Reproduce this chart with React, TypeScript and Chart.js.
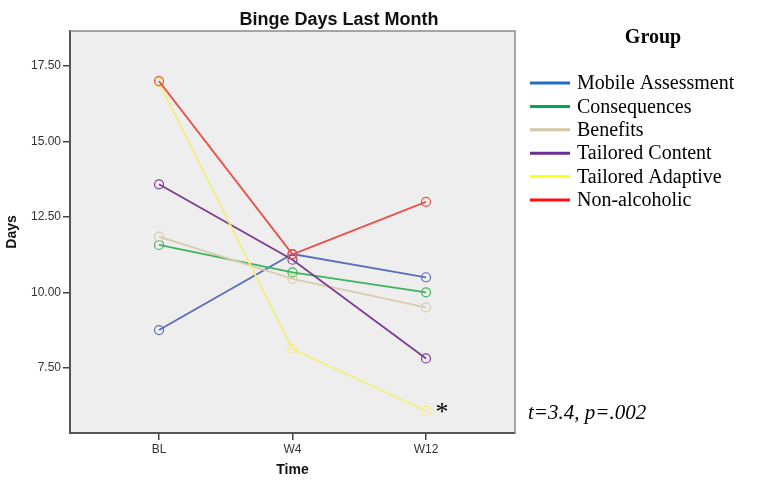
import React, { useEffect, useRef } from "react";
import { Chart, registerables } from "chart.js";

Chart.register(...registerables);

const chartTitle = "Binge Days Last Month";
const xTitle = "Time";
const yTitle = "Days";
const legendTitle = "Group";
const statText = "t=3.4, p=.002";
const starMark = "*";

const timeLabels = ["BL", "W4", "W12"];
const groups = [
  "Mobile Assessment",
  "Consequences",
  "Benefits",
  "Tailored Content",
  "Tailored Adaptive",
  "Non-alcoholic",
];
const mobileAssessment = [8.75, 11.27, 10.5];
const consequences = [11.57, 10.66, 10.0];
const benefits = [11.85, 10.45, 9.5];
const tailoredContent = [13.58, 11.08, 7.81];
const tailoredAdaptive = [16.95, 8.12, 6.07];
const nonAlcoholic = [17.0, 11.26, 13.0];
const seriesValues = [
  mobileAssessment,
  consequences,
  benefits,
  tailoredContent,
  tailoredAdaptive,
  nonAlcoholic,
];
const yTicks = [7.5, 10, 12.5, 15, 17.5];
const yMin = 5.34;
const yMax = 18.66;

const lineColors = ["#5a6fb8", "#3fb45c", "#d8ccae", "#7d3d8e", "#f4ef7c", "#e8524b"];
const legendColors = ["#1f6fc0", "#00a651", "#d3c6a7", "#6a2e99", "#ffff1a", "#ff1010"];

const decorPlugin = {
  id: "decor",
  beforeDraw(chart: any) {
    const { ctx, chartArea } = chart;
    ctx.save();
    ctx.fillStyle = "#eeeeee";
    ctx.fillRect(chartArea.left, chartArea.top, chartArea.right - chartArea.left, chartArea.bottom - chartArea.top);
    ctx.restore();
  },
  afterDraw(chart: any) {
    const { ctx, chartArea, scales } = chart;
    const { left, right, top, bottom } = chartArea;
    ctx.save();
    // top & right frame
    ctx.strokeStyle = "#8a8a8a";
    ctx.lineWidth = 1.5;
    ctx.beginPath();
    ctx.moveTo(left, top);
    ctx.lineTo(right, top);
    ctx.lineTo(right, bottom);
    ctx.stroke();

    // title
    ctx.fillStyle = "#111";
    ctx.font = "bold 18px 'Liberation Sans', Arial, sans-serif";
    ctx.textAlign = "center";
    ctx.textBaseline = "middle";
    ctx.fillText(chartTitle, 339, 20);

    // legend
    const lx = right + 15;
    ctx.font = "bold 20px 'Liberation Serif', 'Times New Roman', serif";
    ctx.fillStyle = "#000";
    ctx.textAlign = "center";
    ctx.fillText(legendTitle, 653, 38);
    ctx.font = "20px 'Liberation Serif', 'Times New Roman', serif";
    ctx.textAlign = "left";
    groups.forEach((g, i) => {
      const y = 83 + i * 23.4;
      ctx.strokeStyle = legendColors[i];
      ctx.lineWidth = 3;
      ctx.beginPath();
      ctx.moveTo(lx, y);
      ctx.lineTo(lx + 40, y);
      ctx.stroke();
      ctx.fillStyle = "#000";
      ctx.fillText(g, lx + 47, y + 1);
    });

    // asterisk next to last point of Tailored Adaptive
    const px = scales.x.getPixelForValue(2);
    const py = scales.y.getPixelForValue(tailoredAdaptive[2]);
    ctx.font = "26px 'Liberation Serif', 'Times New Roman', serif";
    ctx.fillStyle = "#000";
    ctx.textAlign = "center";
    ctx.textBaseline = "middle";
    ctx.fillText(starMark, px + 16, py + 2);

    // stat text
    ctx.font = "italic 21px 'Liberation Serif', 'Times New Roman', serif";
    ctx.textAlign = "left";
    ctx.fillText(statText, right + 13, py + 3);
    ctx.restore();
  },
};

export default function App() {
  const ref = useRef<HTMLCanvasElement | null>(null);
  useEffect(() => {
    if (!ref.current) return;
    const chart = new Chart(ref.current, {
      type: "line",
      data: {
        datasets: groups.map((g, i) => ({
          label: g,
          data: seriesValues[i].map((v, j) => ({ x: j, y: v })),
          order: groups.length - i,
          borderColor: lineColors[i],
          borderWidth: 1.8,
          pointRadius: 4.5,
          pointBorderWidth: 1.2,
          pointBorderColor: lineColors[i],
          pointBackgroundColor: "rgba(0,0,0,0)",
          fill: false,
          tension: 0,
        })),
      },
      options: {
        responsive: false,
        animation: false,
        layout: { padding: { top: 31, right: 244, left: 0, bottom: 0 } },
        plugins: { legend: { display: false }, tooltip: { enabled: false }, title: { display: false } },
        scales: {
          x: {
            type: "linear",
            min: -2 / 3,
            max: 8 / 3,
            afterBuildTicks: (s: any) => {
              s.ticks = timeLabels.map((_, i) => ({ value: i }));
            },
            afterFit: (s: any) => {
              s.height = 47;
            },
            ticks: {
              callback: (v: any) => timeLabels[v] ?? "",
              font: { family: "'Liberation Sans', Arial, sans-serif", size: 12 },
              color: "#333",
              padding: 2,
              maxRotation: 0,
            },
            grid: { drawOnChartArea: false, drawTicks: true, tickLength: 7, color: "#444", lineWidth: 1.5 },
            border: { display: true, color: "#555", width: 2 },
            title: {
              display: true,
              text: xTitle,
              font: { family: "'Liberation Sans', Arial, sans-serif", size: 14, weight: "bold" },
              color: "#111",
              padding: { top: 0, bottom: 1 },
            },
          },
          y: {
            type: "linear",
            min: yMin,
            max: yMax,
            afterBuildTicks: (s: any) => {
              s.ticks = yTicks.map((v) => ({ value: v }));
            },
            afterFit: (s: any) => {
              s.width = 70;
            },
            ticks: {
              callback: (v: any) => Number(v).toFixed(2),
              font: { family: "'Liberation Sans', Arial, sans-serif", size: 12 },
              color: "#333",
              padding: 2,
            },
            grid: { drawOnChartArea: false, drawTicks: true, tickLength: 7, color: "#444", lineWidth: 1.5 },
            border: { display: true, color: "#555", width: 2 },
            title: {
              display: true,
              text: yTitle,
              font: { family: "'Liberation Sans', Arial, sans-serif", size: 14, weight: "bold" },
              color: "#111",
              padding: { top: 4, bottom: 4 },
            },
          },
        },
      } as any,
      plugins: [decorPlugin],
    });
    return () => chart.destroy();
  }, []);
  return (
    <div style={{ position: "absolute", left: 0, top: 0, width: 759, height: 480, background: "#fff" }}>
      <canvas ref={ref} width={759} height={480} style={{ display: "block" }} />
    </div>
  );
}
